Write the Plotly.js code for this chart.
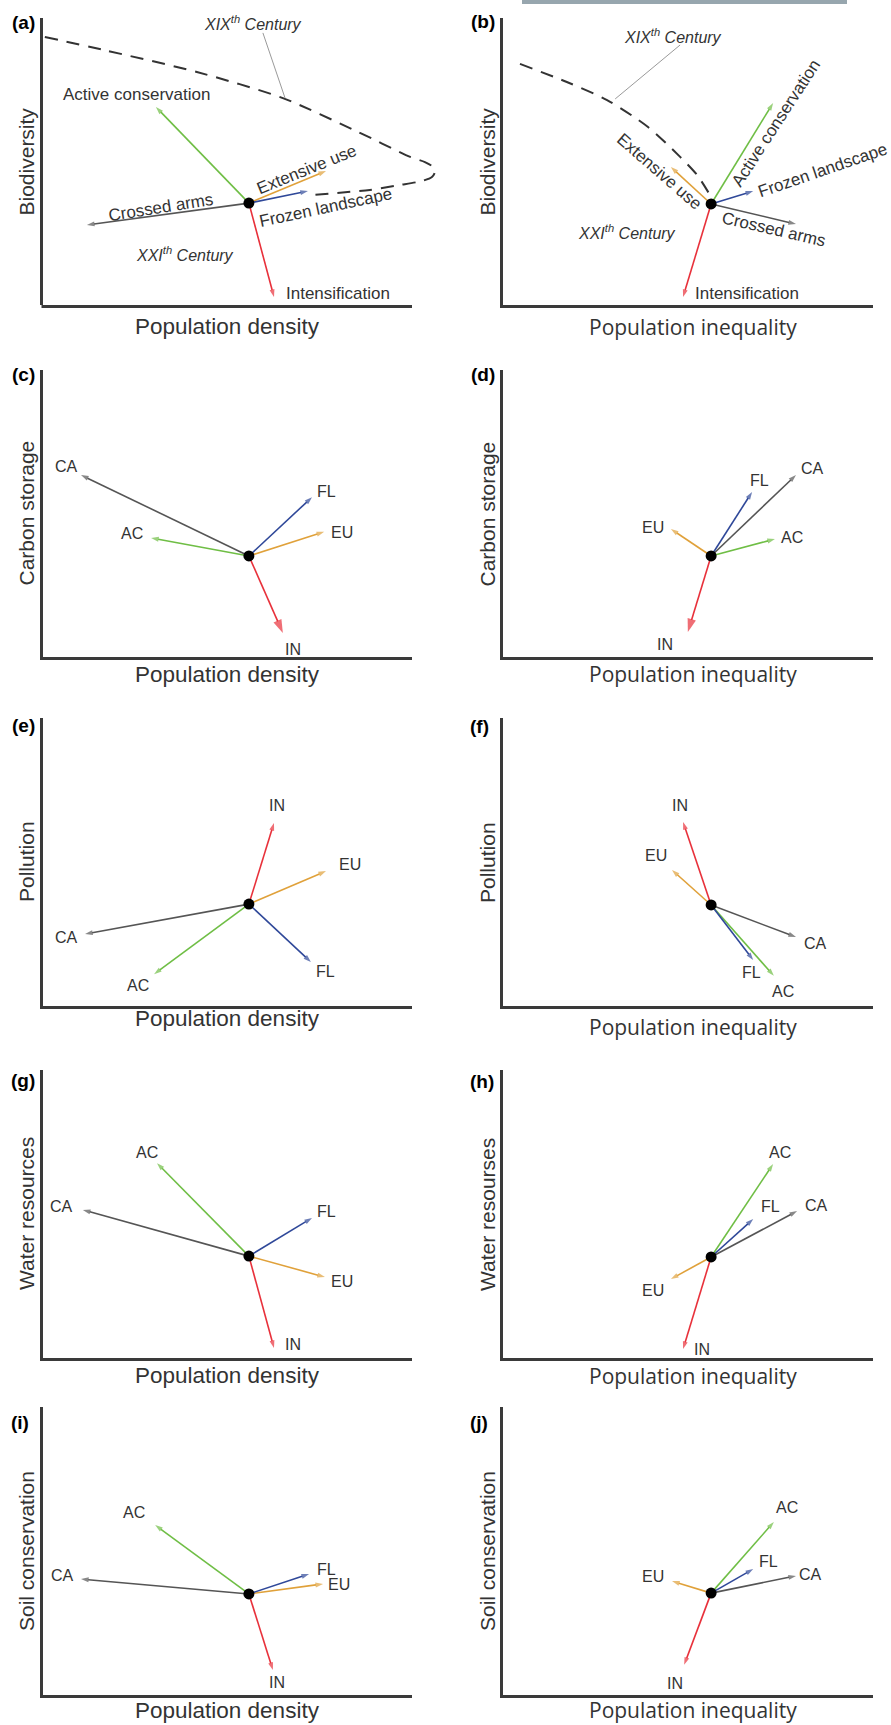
<!DOCTYPE html>
<html><head><meta charset="utf-8">
<script src="https://cdn.plot.ly/plotly-3.0.1.min.js"></script>
<style>html,body{margin:0;padding:0;background:#fff}#chart{width:891px;height:1725px}</style>
</head><body><div id="chart"></div>
<script>
// ---------------- DATA ----------------
const panels = ['a','b','c','d','e','f','g','h','i','j'];
const yTitles = ['Biodiversity','Biodiversity','Carbon storage','Carbon storage','Pollution','Pollution',
                 'Water resources','Water resourses','Soil conservation','Soil conservation'];
const xTitles = ['Population density','Population inequality','Population density','Population inequality',
                 'Population density','Population inequality','Population density','Population inequality',
                 'Population density','Population inequality'];

const scenarios = ['AC','EU','FL','CA','IN'];
const scenarioNames = ['Active conservation','Extensive use','Frozen landscape','Crossed arms','Intensification'];

// current state (dot) per panel, a..j
const centreX = [55.8,56.4,55.8,56.4,55.8,56.4,55.8,56.4,55.8,56.4];
const centreY = [35.5,35.2,35.2,35.2,35.5,35.2,35.5,35.2,35.2,35.5];

// arrow tips per scenario, panels a..j
const tipX_AC = [30.6,73.2,29.3,73.7,30.1,73.4,30.9,73.2,30.4,73.4];
const tipY_AC = [69.0,70.4,41.5,41.1,11.1,10.5,67.9,67.6,59.2,60.3];
const tipX_EU = [76.7,45.5,76.2,45.5,76.7,45.8,76.4,45.5,75.9,45.8];
const tipY_EU = [46.7,48.1,43.6,44.6,47.0,47.4,28.2,27.5,38.7,39.7];
const tipX_FL = [71.8,67.8,72.9,67.5,72.6,67.8,72.9,67.8,72.1,67.8];
const tipY_FL = [39.7,39.7,55.7,57.5,15.3,16.0,48.8,48.4,42.2,43.9];
const tipX_CA = [11.9,79.4,10.3,79.4,11.4,79.4,10.8,79.7,10.3,79.4];
const tipY_CA = [27.9,28.2,63.4,63.4,25.1,24.0,51.6,51.2,40.4,41.5];
const tipX_IN = [62.6,48.8,65.0,50.1,62.6,48.8,62.6,48.8,62.3,49.1];
const tipY_IN = [2.8,2.8,8.4,8.7,63.8,64.1,3.5,3.1,8.7,10.5];

// XIXth century frontier (dashed) in panels a and b
const frontierA_x = [0.5,16.3,41.7,65.0,85.4,99.5,103.5,105.7,106.2,105.4,102.7,96.7,88.6,72.4];
const frontierA_y = [93.4,88.9,81.2,72.1,60.3,51.6,49.8,48.1,46.3,44.6,43.2,41.8,40.1,38.3];
const frontierB_x = [4.6,17.3,28.2,39.3,48.0,52.6,56.1];
const frontierB_y = [84.0,77.7,71.4,62.0,51.6,45.3,38.3];
// leader lines from "XIXth Century" label to frontier
const leaderA_x = [59.6,65.6], leaderA_y = [94.8,72.1];
const leaderB_x = [48.0,30.4], leaderB_y = [90.6,71.8];
// century labels
const centuryText = ['XIX<sup>th</sup> Century','XXI<sup>th</sup> Century'];
const centuryA_x = [56.9,38.5], centuryA_y = [98.3,17.8];
const centuryB_x = [46.1,33.6], centuryB_y = [93.7,25.4];

// ---------------- STYLE ----------------
const W = 891, H = 1725;
const colsPx = [[43,412],[503,873]];
const rowsPx = [[18,305],[370,657],[718,1006],[1070,1358],[1407,1695]];
const pxPerUnitX = 3.69;
const colors = {AC:'#6fbe45', EU:'#e0a13a', FL:'#2f4899', CA:'#555555', IN:'#e8313b'};
const axisColor = '#3a3a3a';
const textColor = '#333333';
// label offsets in px [xshift, yshift, angle]
const labelStyle = {
  a:{AC:[-19,12,0],EU:[-19,1,-22],FL:[18,-16,-12],CA:[74,17,-9],IN:[64,3,0]},
  b:{AC:[3,-21,-57],EU:[-12,-5,41],FL:[69,21,-19],CA:[-22,-5,13],IN:[64,3,0]},
  c:{AC:[-19,4,0],EU:[18,-1,0],FL:[14,6,0],CA:[-15,9,0],IN:[10,-17,0]},
  d:{AC:[17,2,0],EU:[-18,2,0],FL:[7,11,0],CA:[17,7,0],IN:[-23,-12,0]},
  e:{AC:[-16,-11,0],EU:[24,7,0],FL:[15,-9,0],CA:[-19,-4,0],IN:[3,17,0]},
  f:{AC:[9,-16,0],EU:[-16,14,0],FL:[-2,-12,0],CA:[20,-6,0],IN:[-3,17,0]},
  g:{AC:[-10,11,0],EU:[17,-4,0],FL:[14,6,0],CA:[-21,3,0],IN:[19,3,0]},
  h:{AC:[7,11,0],EU:[-18,-11,0],FL:[17,13,0],CA:[19,6,0],IN:[19,0,0]},
  i:{AC:[-21,13,0],EU:[16,-1,0],FL:[17,4,0],CA:[-19,4,0],IN:[4,-12,0]},
  j:{AC:[13,14,0],EU:[-19,5,0],FL:[15,8,0],CA:[15,1,0],IN:[-9,-19,0]}
};
const letterPos = {a:[23,23],b:[483,22],c:[23,375],d:[483,375],e:[23,725],f:[479,726],g:[23,1080],h:[482,1081],i:[20,1422],j:[479,1422]};
const xTitleY = [326,327,674,674,1018,1027,1375,1376,1710,1710];
const xTitleX = [227,693];
const yTitleX = [26,487];

const tips = {AC:[tipX_AC,tipY_AC],EU:[tipX_EU,tipY_EU],FL:[tipX_FL,tipY_FL],CA:[tipX_CA,tipY_CA],IN:[tipX_IN,tipY_IN]};

const traces = [], dotTraces = [], annotations = [], shapes = [];
const layout = {
  width:W, height:H, margin:{l:0,r:0,t:0,b:0}, showlegend:false,
  paper_bgcolor:'#fff', plot_bgcolor:'rgba(0,0,0,0)',
  font:{family:'"Liberation Sans", Arial, sans-serif', color:textColor}
};

panels.forEach((p,i)=>{
  const k = i+1, sx = k===1?'':String(k);
  const col = i%2, row = Math.floor(i/2);
  let x0 = colsPx[col][0], x1 = colsPx[col][1];
  if(p==='a') x1 = 440; // frontier overflows the axis in panel a
  const [y0,y1] = rowsPx[row];
  layout['xaxis'+sx] = {domain:[x0/W,x1/W], range:[0,(x1-x0)/pxPerUnitX], anchor:'y'+sx,
    showline:p!=='a', linewidth:3, linecolor:axisColor, showticklabels:false, ticks:'',
    showgrid:false, zeroline:false, fixedrange:true};
  layout['yaxis'+sx] = {domain:[1-y1/H,1-y0/H], range:[0,(y1-y0)/2.87], anchor:'x'+sx,
    showline:true, linewidth:3, linecolor:axisColor, showticklabels:false, ticks:'',
    showgrid:false, zeroline:false, fixedrange:true};
  if(p==='a'){
    shapes.push({type:'line', xref:'paper', yref:'paper', x0:colsPx[0][0]/W - 1.5/W, x1:colsPx[0][1]/W,
      y0:1-(y1+1.5)/H, y1:1-(y1+1.5)/H, line:{color:axisColor,width:3}});
  }
  const xr='x'+sx, yr='y'+sx;

  // arrows: line trace from current state to scenario, with arrow-head marker at the tip
  scenarios.forEach((s,si)=>{
    const tx = tips[s][0][i], ty = tips[s][1][i];
    const bigHead = (s==='IN' && (p==='c'||p==='d'));
    traces.push({type:'scatter', mode:'lines+markers', x:[centreX[i],tx], y:[centreY[i],ty],
      xaxis:xr, yaxis:yr, line:{color:colors[s], width:1.6},
      marker:{symbol:['circle','arrow'], size:[0, bigHead?14:8], color:colors[s], angleref:'previous',
              line:{width:0}},
      hoverinfo:'skip', cliponaxis:false});
    const st = labelStyle[p][s];
    const full = (p==='a'||p==='b');
    annotations.push({xref:xr, yref:yr, x:tx, y:ty, text: full?scenarioNames[si]:s, showarrow:false,
      xshift:st[0], yshift:st[1], textangle:st[2], xanchor:'center', yanchor:'middle',
      font:{size: full?17:16, color:textColor}});
  });

  // current state dot
  dotTraces.push({type:'scatter', mode:'markers', x:[centreX[i]], y:[centreY[i]], xaxis:xr, yaxis:yr,
    marker:{color:'#000', size:11}, hoverinfo:'skip', cliponaxis:false});

  // panel letter
  annotations.push({xref:'paper', yref:'paper', x:letterPos[p][0]/W, y:1-letterPos[p][1]/H,
    text:'<b>('+p+')</b>', showarrow:false, xanchor:'center', yanchor:'middle',
    font:{size:19, color:'#000'}});
  // axis titles
  annotations.push({xref:'paper', yref:'paper', x:yTitleX[col]/W, y:1-((y0+y1)/2)/H,
    text:yTitles[i], showarrow:false, textangle:-90, xanchor:'center', yanchor:'middle',
    font:{size:21, color:textColor}});
  annotations.push({xref:'paper', yref:'paper', x:xTitleX[col]/W, y:1-xTitleY[i]/H,
    text:xTitles[i], showarrow:false, xanchor:'center', yanchor:'middle',
    font: col===0 ? {size:22.5, color:textColor} : {size:21, color:textColor, family:'"Open Sans", sans-serif'}});
});

// frontier curves & leader lines
traces.push({type:'scatter', mode:'lines', x:frontierA_x, y:frontierA_y, xaxis:'x', yaxis:'y',
  line:{color:'#333', width:2, dash:'13px,9px', shape:'spline', smoothing:0.7}, hoverinfo:'skip'});
traces.push({type:'scatter', mode:'lines', x:frontierB_x, y:frontierB_y, xaxis:'x2', yaxis:'y2',
  line:{color:'#333', width:2, dash:'13px,9px', shape:'spline', smoothing:0.8}, hoverinfo:'skip'});
traces.push({type:'scatter', mode:'lines', x:leaderA_x, y:leaderA_y, xaxis:'x', yaxis:'y',
  line:{color:'#9a9a9a', width:1}, hoverinfo:'skip'});
traces.push({type:'scatter', mode:'lines', x:leaderB_x, y:leaderB_y, xaxis:'x2', yaxis:'y2',
  line:{color:'#9a9a9a', width:1}, hoverinfo:'skip'});
// century labels
[0,1].forEach(j=>{
  annotations.push({xref:'x', yref:'y', x:centuryA_x[j], y:centuryA_y[j], text:centuryText[j],
    showarrow:false, font:{size:16,color:textColor,style:'italic'}});
  annotations.push({xref:'x2', yref:'y2', x:centuryB_x[j], y:centuryB_y[j], text:centuryText[j],
    showarrow:false, font:{size:16,color:textColor,style:'italic'}});
});

// grey strip at top of panel b
shapes.push({type:'rect', xref:'paper', yref:'paper', x0:522/W, x1:847/W, y0:1-4/H, y1:1,
  fillcolor:'#97a6ae', line:{width:0}});

layout.annotations = annotations;
layout.shapes = shapes;
Plotly.newPlot('chart', traces.concat(dotTraces), layout, {displayModeBar:false, staticPlot:true});
</script></body></html>
